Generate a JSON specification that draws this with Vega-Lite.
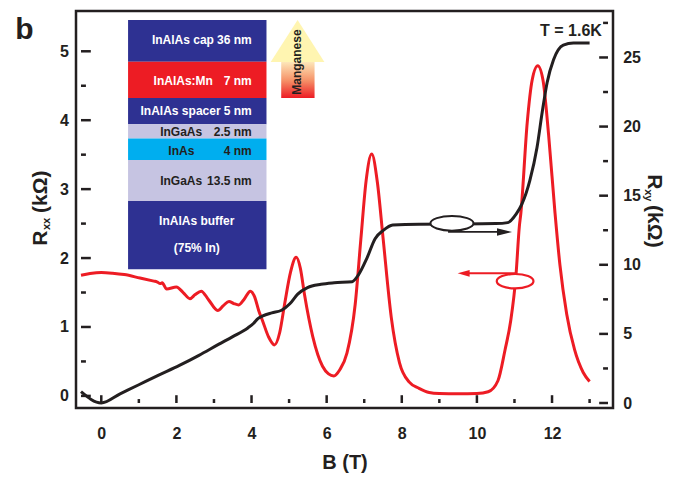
{
  "$schema": "https://vega.github.io/schema/vega-lite/v6.json",
  "width": 537,
  "height": 397,
  "autosize": "none",
  "padding": {"left": 76, "top": 11, "right": 64, "bottom": 75},
  "config": {
    "font": "Liberation Sans",
    "view": {"stroke": "#231f20", "strokeWidth": 2.5},
    "axis": {"grid": false, "zindex": 1, "domain": false, "ticks": false, "tickSize": 0, "labelColor": "#231f20", "labelFontSize": 16, "labelFontWeight": "bold", "labelOverlap": false, "labelBound": false, "labelFlush": false}
  },
  "datasets": {
    "one": [{}],
    "xmajor": [{"v": 0}, {"v": 2}, {"v": 4}, {"v": 6}, {"v": 8}, {"v": 10}, {"v": 12}],
    "xminor": [{"v": 1}, {"v": 3}, {"v": 5}, {"v": 7}, {"v": 9}, {"v": 11}, {"v": 13}],
    "lmajor": [{"v": 0}, {"v": 1}, {"v": 2}, {"v": 3}, {"v": 4}, {"v": 5}],
    "lminor": [{"v": 0.5}, {"v": 1.5}, {"v": 2.5}, {"v": 3.5}, {"v": 4.5}],
    "rmajor": [{"v": 0}, {"v": 5}, {"v": 10}, {"v": 15}, {"v": 20}, {"v": 25}],
    "rminor": [{"v": 2.5}, {"v": 7.5}, {"v": 12.5}, {"v": 17.5}, {"v": 22.5}, {"v": 27.5}],
    "rxx": [
      {"B": -0.54, "R": 1.75}, {"B": -0.3, "R": 1.775}, {"B": 0.0, "R": 1.79}, {"B": 0.3, "R": 1.78},
      {"B": 0.61, "R": 1.76}, {"B": 1.03, "R": 1.71}, {"B": 1.4, "R": 1.665}, {"B": 1.48, "R": 1.655},
      {"B": 1.57, "R": 1.63}, {"B": 1.62, "R": 1.64}, {"B": 1.74, "R": 1.55}, {"B": 2.0, "R": 1.58},
      {"B": 2.18, "R": 1.5}, {"B": 2.36, "R": 1.41}, {"B": 2.5, "R": 1.47}, {"B": 2.66, "R": 1.52},
      {"B": 2.85, "R": 1.4}, {"B": 3.1, "R": 1.24}, {"B": 3.25, "R": 1.31}, {"B": 3.4, "R": 1.37},
      {"B": 3.53, "R": 1.34}, {"B": 3.66, "R": 1.32}, {"B": 3.8, "R": 1.4}, {"B": 3.97, "R": 1.52},
      {"B": 4.08, "R": 1.44}, {"B": 4.19, "R": 1.24}, {"B": 4.3, "R": 1.08}, {"B": 4.45, "R": 0.86},
      {"B": 4.61, "R": 0.74}, {"B": 4.75, "R": 0.92}, {"B": 4.88, "R": 1.33}, {"B": 5.04, "R": 1.8},
      {"B": 5.19, "R": 2.01}, {"B": 5.3, "R": 1.85}, {"B": 5.41, "R": 1.47}, {"B": 5.63, "R": 0.86},
      {"B": 5.89, "R": 0.43}, {"B": 6.05, "R": 0.32}, {"B": 6.19, "R": 0.29}, {"B": 6.35, "R": 0.38},
      {"B": 6.54, "R": 0.62}, {"B": 6.76, "R": 1.33}, {"B": 6.91, "R": 2.27}, {"B": 7.05, "R": 3.12},
      {"B": 7.2, "R": 3.51}, {"B": 7.35, "R": 3.1}, {"B": 7.5, "R": 2.3}, {"B": 7.72, "R": 1.14},
      {"B": 7.94, "R": 0.48}, {"B": 8.2, "R": 0.2}, {"B": 8.46, "R": 0.11}, {"B": 8.73, "R": 0.05},
      {"B": 9.0, "R": 0.035}, {"B": 9.5, "R": 0.03}, {"B": 10.0, "R": 0.035}, {"B": 10.3, "R": 0.06},
      {"B": 10.56, "R": 0.22}, {"B": 10.75, "R": 0.67}, {"B": 10.9, "R": 1.09}, {"B": 11.04, "R": 1.75},
      {"B": 11.13, "R": 2.46}, {"B": 11.17, "R": 2.65}, {"B": 11.34, "R": 3.97}, {"B": 11.47, "R": 4.58},
      {"B": 11.62, "R": 4.79}, {"B": 11.76, "R": 4.58}, {"B": 11.91, "R": 3.78}, {"B": 12.08, "R": 2.65},
      {"B": 12.21, "R": 1.9}, {"B": 12.39, "R": 1.19}, {"B": 12.6, "R": 0.67}, {"B": 12.83, "R": 0.34},
      {"B": 13.0, "R": 0.21}
    ],
    "rxy": [
      {"B": -0.54, "R": 0.82}, {"B": 0.0, "R": 0.0}, {"B": 0.5, "R": 0.66}, {"B": 1.0, "R": 1.32},
      {"B": 1.5, "R": 1.98}, {"B": 2.08, "R": 2.72}, {"B": 2.6, "R": 3.45}, {"B": 3.12, "R": 4.24},
      {"B": 3.5, "R": 4.8}, {"B": 3.91, "R": 5.45}, {"B": 4.05, "R": 5.75}, {"B": 4.17, "R": 6.1},
      {"B": 4.3, "R": 6.3}, {"B": 4.54, "R": 6.52}, {"B": 4.8, "R": 6.71}, {"B": 5.02, "R": 7.18},
      {"B": 5.23, "R": 7.88}, {"B": 5.49, "R": 8.35}, {"B": 5.85, "R": 8.59}, {"B": 6.2, "R": 8.7},
      {"B": 6.68, "R": 8.78}, {"B": 6.85, "R": 9.29}, {"B": 7.07, "R": 10.47}, {"B": 7.29, "R": 11.89},
      {"B": 7.5, "R": 12.47}, {"B": 7.76, "R": 12.87}, {"B": 8.46, "R": 12.94}, {"B": 9.5, "R": 12.95},
      {"B": 10.5, "R": 12.98}, {"B": 10.82, "R": 13.05}, {"B": 11.04, "R": 13.65}, {"B": 11.2, "R": 14.4},
      {"B": 11.41, "R": 16.1}, {"B": 11.6, "R": 18.48}, {"B": 11.74, "R": 21.07}, {"B": 11.87, "R": 23.19},
      {"B": 12.04, "R": 24.83}, {"B": 12.3, "R": 25.89}, {"B": 12.57, "R": 26.04}, {"B": 13.0, "R": 26.04}
    ],
    "layers": [
      {"material": "InAlAs", "top": 5.455, "bottom": 4.847},
      {"material": "InAlAs:Mn", "top": 4.847, "bottom": 4.324},
      {"material": "InAlAs", "top": 4.324, "bottom": 3.942},
      {"material": "InGaAs", "top": 3.942, "bottom": 3.734},
      {"material": "InAs", "top": 3.734, "bottom": 3.423},
      {"material": "InGaAs", "top": 3.423, "bottom": 2.829},
      {"material": "InAlAs", "top": 2.829, "bottom": 1.839}
    ],
    "names": [
      {"label": "InAlAs cap", "B": 1.348, "R": 5.158, "material": "InAlAs"},
      {"label": "InAlAs:Mn", "B": 1.393, "R": 4.574, "material": "InAlAs:Mn"},
      {"label": "InAlAs spacer", "B": 1.045, "R": 4.13, "material": "InAlAs"},
      {"label": "InGaAs", "B": 1.568, "R": 3.829, "material": "InGaAs"},
      {"label": "InAs", "B": 1.785, "R": 3.56, "material": "InAs"},
      {"label": "InGaAs", "B": 1.568, "R": 3.122, "material": "InGaAs"}
    ],
    "thickness": [
      {"label": "36 nm", "R": 5.158, "material": "InAlAs"},
      {"label": "7 nm", "R": 4.574, "material": "InAlAs:Mn"},
      {"label": "5 nm", "R": 4.13, "material": "InAlAs"},
      {"label": "2.5 nm", "R": 3.829, "material": "InGaAs"},
      {"label": "4 nm", "R": 3.56, "material": "InAs"},
      {"label": "13.5 nm", "R": 3.122, "material": "InGaAs"}
    ],
    "buffer": [
      {"label": "InAlAs buffer", "R": 2.532, "material": "InAlAs"},
      {"label": "(75% In)", "R": 2.146, "material": "InAlAs"}
    ],
    "mnhead": [
      {"B": 4.51, "R": 4.843}, {"B": 5.226, "R": 5.455}, {"B": 5.939, "R": 4.843}
    ]
  },
  "layer": [
    {
      "layer": [
        {
          "data": {"name": "rxx"},
          "mark": {"type": "line", "color": "#ed1c24", "strokeWidth": 3, "interpolate": "monotone"},
          "encoding": {
            "x": {
              "field": "B", "type": "quantitative",
              "scale": {"domain": [-0.54, 13.49], "nice": false, "zero": false},
              "axis": {
                "orient": "bottom",
                "values": [0, 2, 4, 6, 8, 10, 12],
                "format": "~g",
                "labelPadding": 17.6,
                "title": "B (T)", "titleFontSize": 20, "titleFontWeight": "bold", "titleColor": "#231f20",
                "titlePadding": 11
              }
            },
            "y": {
              "field": "R", "type": "quantitative",
              "scale": {"domain": [-0.103, 5.512], "nice": false, "zero": false},
              "axis": {
                "orient": "left",
                "values": [0, 1, 2, 3, 4, 5],
                "format": "~g",
                "labelPadding": 7.7,
                "title": null
              }
            }
          }
        },
        {
          "data": {"name": "xmajor"},
          "mark": {"type": "bar", "color": "#231f20", "width": 2.5, "opacity": 1},
          "encoding": {
            "x": {"field": "v", "type": "quantitative"},
            "y": {"datum": -0.103},
            "y2": {"datum": 0.01}
          }
        },
        {
          "data": {"name": "xminor"},
          "mark": {"type": "bar", "color": "#231f20", "width": 2.5, "opacity": 1},
          "encoding": {
            "x": {"field": "v", "type": "quantitative"},
            "y": {"datum": -0.103},
            "y2": {"datum": -0.046}
          }
        },
        {
          "data": {"name": "lmajor"},
          "mark": {"type": "bar", "color": "#231f20", "height": 2.5, "opacity": 1},
          "encoding": {
            "y": {"field": "v", "type": "quantitative"},
            "x": {"datum": -0.54},
            "x2": {"datum": -0.279}
          }
        },
        {
          "data": {"name": "lminor"},
          "mark": {"type": "bar", "color": "#231f20", "height": 2.5, "opacity": 1},
          "encoding": {
            "y": {"field": "v", "type": "quantitative"},
            "x": {"datum": -0.54},
            "x2": {"datum": -0.409}
          }
        },
        {
          "data": {"name": "layers"},
          "mark": {"type": "rect"},
          "encoding": {
            "x": {"datum": 0.713},
            "x2": {"datum": 4.398},
            "y": {"field": "top", "type": "quantitative"},
            "y2": {"field": "bottom"},
            "fill": {
              "field": "material", "type": "nominal", "legend": null,
              "scale": {"domain": ["InAlAs", "InAlAs:Mn", "InGaAs", "InAs"], "range": ["#2e3192", "#ed1c24", "#c6c4e2", "#00aeef"]}
            }
          }
        },
        {
          "data": {"name": "mnhead"},
          "mark": {"type": "area", "color": "#fff5b1"},
          "encoding": {
            "x": {"field": "B", "type": "quantitative"},
            "y": {"field": "R", "type": "quantitative"},
            "y2": {"datum": 4.843}
          }
        },
        {
          "data": {"name": "one"},
          "mark": {
            "type": "rect",
            "color": {"gradient": "linear", "x1": 0, "y1": 0, "x2": 0, "y2": 1,
              "stops": [{"offset": 0, "color": "#fde6b8"}, {"offset": 0.5, "color": "#f6946a"}, {"offset": 1, "color": "#ed1c24"}]}
          },
          "encoding": {
            "x": {"datum": 4.79},
            "x2": {"datum": 5.678},
            "y": {"datum": 4.843},
            "y2": {"datum": 4.324}
          }
        },
        {
          "data": {"name": "one"},
          "mark": {"type": "text", "text": "Manganese", "angle": 270, "fontSize": 12, "fontWeight": "bold", "color": "#231f20", "align": "center", "baseline": "middle"},
          "encoding": {
            "x": {"datum": 5.208},
            "y": {"datum": 4.843}
          }
        },
        {
          "data": {"name": "names"},
          "mark": {"type": "text", "fontSize": 12, "fontWeight": "bold", "align": "left", "baseline": "middle"},
          "encoding": {
            "x": {"field": "B", "type": "quantitative"},
            "y": {"field": "R", "type": "quantitative"},
            "text": {"field": "label"},
            "color": {
              "field": "material", "type": "nominal", "legend": null,
              "scale": {"domain": ["InAlAs", "InAlAs:Mn", "InGaAs", "InAs"], "range": ["#ffffff", "#ffffff", "#231f20", "#231f20"]}
            }
          }
        },
        {
          "data": {"name": "thickness"},
          "mark": {"type": "text", "fontSize": 12, "fontWeight": "bold", "align": "right", "baseline": "middle"},
          "encoding": {
            "x": {"datum": 4.006},
            "y": {"field": "R", "type": "quantitative"},
            "text": {"field": "label"},
            "color": {"field": "material", "type": "nominal", "legend": null}
          }
        },
        {
          "data": {"name": "buffer"},
          "mark": {"type": "text", "fontSize": 12, "fontWeight": "bold", "align": "center", "baseline": "middle"},
          "encoding": {
            "x": {"datum": 2.542},
            "y": {"field": "R", "type": "quantitative"},
            "text": {"field": "label"},
            "color": {"field": "material", "type": "nominal", "legend": null}
          }
        },
        {
          "data": {"name": "one"},
          "mark": {"type": "rule", "color": "#ed1c24", "strokeWidth": 2},
          "encoding": {
            "x": {"datum": 9.755},
            "x2": {"datum": 11.061},
            "y": {"datum": 1.778}
          }
        },
        {
          "data": {"name": "one"},
          "mark": {"type": "point", "shape": "M1,-0.55L-1,0L1,0.55Z", "size": 144, "filled": true, "color": "#ed1c24", "opacity": 1},
          "encoding": {
            "x": {"datum": 9.647},
            "y": {"datum": 1.778}
          }
        },
        {
          "data": {"name": "one"},
          "mark": {"type": "point", "shape": "M-1,0A1,0.39,0,1,1,1,0A1,0.39,0,1,1,-1,0Z", "size": 1347, "filled": false, "fill": "#ffffff", "fillOpacity": 1, "stroke": "#ed1c24", "strokeWidth": 2.2, "opacity": 1},
          "encoding": {
            "x": {"datum": 11.017},
            "y": {"datum": 1.665}
          }
        },
        {
          "data": {"name": "one"},
          "mark": {"type": "text", "text": "b", "fontSize": 30, "fontWeight": "bold", "color": "#231f20", "align": "left", "baseline": "alphabetic"},
          "encoding": {"x": {"datum": -2.292}, "y": {"datum": 5.173}}
        },
        {
          "data": {"name": "one"},
          "mark": {"type": "text", "text": "T = 1.6K", "fontSize": 16, "fontWeight": "bold", "color": "#231f20", "align": "right", "baseline": "alphabetic"},
          "encoding": {"x": {"datum": 13.326}, "y": {"datum": 5.219}}
        },
        {
          "data": {"name": "one"},
          "mark": {"type": "text", "text": "R", "angle": 270, "fontSize": 21, "fontWeight": "bold", "color": "#231f20", "align": "left", "baseline": "alphabetic"},
          "encoding": {"x": {"datum": -1.437}, "y": {"datum": 2.178}}
        },
        {
          "data": {"name": "one"},
          "mark": {"type": "text", "text": "xx", "angle": 270, "fontSize": 11, "fontWeight": "bold", "color": "#231f20", "align": "left", "baseline": "alphabetic"},
          "encoding": {"x": {"datum": -1.377}, "y": {"datum": 2.407}}
        },
        {
          "data": {"name": "one"},
          "mark": {"type": "text", "text": "(kΩ)", "angle": 270, "fontSize": 21, "fontWeight": "bold", "color": "#231f20", "align": "left", "baseline": "alphabetic"},
          "encoding": {"x": {"datum": -1.437}, "y": {"datum": 2.655}}
        },
        {
          "data": {"name": "one"},
          "mark": {"type": "text", "text": "R", "angle": 90, "fontSize": 21, "fontWeight": "bold", "color": "#231f20", "align": "left", "baseline": "alphabetic"},
          "encoding": {"x": {"datum": 14.544}, "y": {"datum": 3.216}}
        },
        {
          "data": {"name": "one"},
          "mark": {"type": "text", "text": "xy", "angle": 90, "fontSize": 11, "fontWeight": "bold", "color": "#231f20", "align": "left", "baseline": "alphabetic"},
          "encoding": {"x": {"datum": 14.47}, "y": {"datum": 3.0}}
        },
        {
          "data": {"name": "one"},
          "mark": {"type": "text", "text": "(kΩ)", "angle": 90, "fontSize": 21, "fontWeight": "bold", "color": "#231f20", "align": "left", "baseline": "alphabetic"},
          "encoding": {"x": {"datum": 14.544}, "y": {"datum": 2.768}}
        }
      ]
    },
    {
      "layer": [
        {
          "data": {"name": "rxy"},
          "mark": {"type": "line", "color": "#231f20", "strokeWidth": 3, "interpolate": "monotone"},
          "encoding": {
            "x": {"field": "B", "type": "quantitative"},
            "y": {
              "field": "R", "type": "quantitative",
              "scale": {"domain": [0, 28.0], "nice": false, "zero": false},
              "axis": {
                "orient": "right",
                "values": [0, 5, 10, 15, 20, 25],
                "format": "~g",
                "labelPadding": 9.7,
                "title": null
              }
            }
          }
        },
        {
          "data": {"name": "rmajor"},
          "mark": {"type": "bar", "color": "#231f20", "height": 2.5, "opacity": 1},
          "encoding": {
            "y": {"field": "v", "type": "quantitative"},
            "x": {"datum": 13.255},
            "x2": {"datum": 13.49}
          }
        },
        {
          "data": {"name": "rminor"},
          "mark": {"type": "bar", "color": "#231f20", "height": 2.5, "opacity": 1},
          "encoding": {
            "y": {"field": "v", "type": "quantitative"},
            "x": {"datum": 13.359},
            "x2": {"datum": 13.49}
          }
        },
        {
          "data": {"name": "one"},
          "mark": {"type": "rule", "color": "#231f20", "strokeWidth": 1.8},
          "encoding": {
            "x": {"datum": 9.232},
            "x2": {"datum": 10.695},
            "y": {"datum": 12.38}
          }
        },
        {
          "data": {"name": "one"},
          "mark": {"type": "point", "shape": "M-1,-0.5L1,0L-1,0.5Z", "size": 225, "filled": true, "color": "#231f20", "opacity": 1},
          "encoding": {
            "x": {"datum": 10.734},
            "y": {"datum": 12.38}
          }
        },
        {
          "data": {"name": "one"},
          "mark": {"type": "point", "shape": "M-1,0A1,0.34,0,1,1,1,0A1,0.34,0,1,1,-1,0Z", "size": 1849, "filled": false, "fill": "#ffffff", "fillOpacity": 1, "stroke": "#231f20", "strokeWidth": 2, "opacity": 1},
          "encoding": {
            "x": {"datum": 9.336},
            "y": {"datum": 13.0}
          }
        }
      ]
    }
  ],
  "resolve": {"scale": {"y": "independent"}, "axis": {"y": "independent"}}
}
